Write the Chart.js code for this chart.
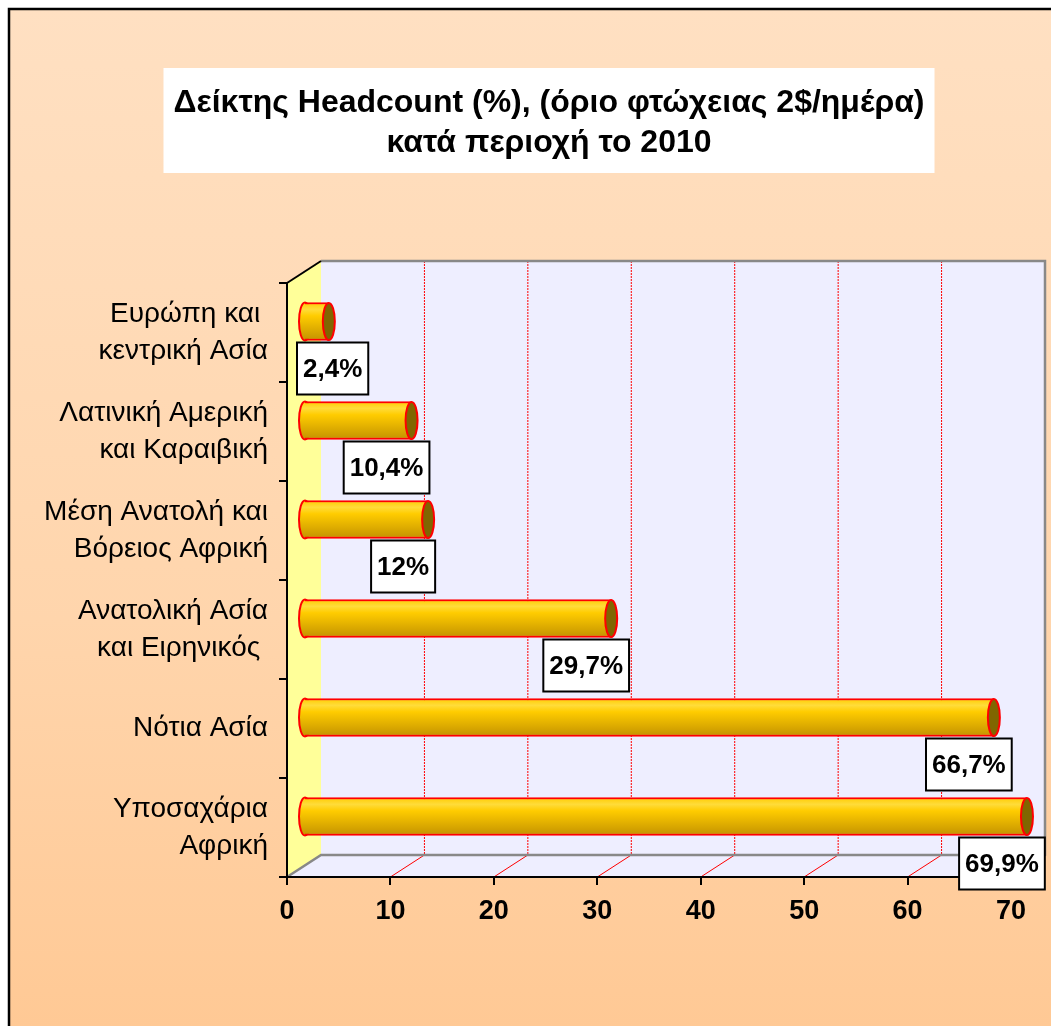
<!DOCTYPE html>
<html>
<head>
<meta charset="utf-8">
<script src="https://cdn.jsdelivr.net/npm/chart.js@4.4.1/dist/chart.umd.min.js"></script>
<style>
  html, body { margin: 0; padding: 0; background: #fff; }
  canvas { display: block; }
</style>
</head>
<body>
<canvas id="chart" width="1051" height="1026"></canvas>
<script>
// τίτλος
var titleLines = ['Δείκτης Headcount (%), (όριο φτώχειας 2$/ημέρα)', 'κατά περιοχή το 2010'];

// περιοχές (πάνω προς κάτω)
var regions = [
  ['Ευρώπη και ', 'κεντρική Ασία'],
  ['Λατινική Αμερική', 'και Καραιβική'],
  ['Μέση Ανατολή και', 'Βόρειος Αφρική'],
  ['Ανατολική Ασία', 'και Ειρηνικός '],
  ['Νότια Ασία'],
  ['Υποσαχάρια', 'Αφρική']
];

// δείκτης headcount %
var headcount = [2.4, 10.4, 12, 29.7, 66.7, 69.9];
var headcountLabels = ['2,4%', '10,4%', '12%', '29,7%', '66,7%', '69,9%'];

// άξονας x
var xMin = 0;
var xMax = 70;
var xStep = 10;

var FONT = "'Liberation Sans', Arial, sans-serif";
var DEPTH_X = 34, DEPTH_Y = -22;

// φόντο, τίτλος, τοίχοι 3D
var backdrop = {
  id: 'backdrop',
  beforeDraw: function(chart) {
    var ctx = chart.ctx;
    var W = chart.width, H = chart.height;
    ctx.save();
    ctx.fillStyle = '#ffffff';
    ctx.fillRect(0, 0, W, H);
    var g = ctx.createLinearGradient(0, 9, 0, H);
    g.addColorStop(0, '#FFE0C2');
    g.addColorStop(0.6, '#FFD5AC');
    g.addColorStop(1, '#FFC995');
    ctx.fillStyle = g;
    ctx.fillRect(9, 9, W, H);
    ctx.strokeStyle = '#000';
    ctx.lineWidth = 2.5;
    ctx.strokeRect(9, 9, W + 10, H + 10);

    // τίτλος σε λευκό πλαίσιο
    ctx.font = 'bold 32px ' + FONT;
    var tw = 0;
    titleLines.forEach(function(t) { tw = Math.max(tw, ctx.measureText(t).width); });
    var tcx = 549, firstY = 103, lh = 40;
    var lastY = firstY + lh * (titleLines.length - 1);
    ctx.fillStyle = '#ffffff';
    ctx.fillRect(tcx - tw / 2 - 10, firstY - 35, tw + 20, lastY - firstY + 65);
    ctx.fillStyle = '#000';
    ctx.textAlign = 'center';
    ctx.textBaseline = 'middle';
    titleLines.forEach(function(t, i) { ctx.fillText(t, tcx, firstY + lh * i); });

    // τοίχοι
    var xs = chart.scales.x;
    var x0 = xs.getPixelForValue(xMin), x1 = xs.getPixelForValue(xMax);
    var top = chart.chartArea.top, bot = chart.chartArea.bottom;
    var dx = DEPTH_X, dy = DEPTH_Y;

    // πίσω τοίχος
    ctx.fillStyle = '#EEEEFF';
    ctx.fillRect(x0 + dx, top + dy, x1 - x0, bot - top);
    // πάτωμα
    ctx.beginPath();
    ctx.moveTo(x0, bot); ctx.lineTo(x0 + dx, bot + dy); ctx.lineTo(x1 + dx, bot + dy); ctx.lineTo(x1, bot);
    ctx.closePath();
    ctx.fill();
    // πλαϊνός τοίχος
    ctx.fillStyle = '#FFFF99';
    ctx.beginPath();
    ctx.moveTo(x0, top); ctx.lineTo(x0 + dx, top + dy); ctx.lineTo(x0 + dx, bot + dy); ctx.lineTo(x0, bot);
    ctx.closePath();
    ctx.fill();

    // γραμμές πλέγματος
    ctx.strokeStyle = '#FF0000';
    ctx.lineWidth = 1;
    ctx.setLineDash([2, 1]);
    for (var v = xMin + xStep; v <= xMax; v += xStep) {
      var px = xs.getPixelForValue(v);
      ctx.beginPath();
      ctx.moveTo(px + dx, top + dy);
      ctx.lineTo(px + dx, bot + dy);
      ctx.stroke();
    }
    ctx.setLineDash([]);
    for (var v2 = xMin + xStep; v2 < xMax; v2 += xStep) {
      var p2 = xs.getPixelForValue(v2);
      ctx.beginPath();
      ctx.moveTo(p2, bot);
      ctx.lineTo(p2 + dx, bot + dy);
      ctx.stroke();
    }

    // γκρι ακμές
    ctx.strokeStyle = '#888888';
    ctx.lineWidth = 2.5;
    ctx.beginPath();
    ctx.moveTo(x0 + dx, top + dy); ctx.lineTo(x1 + dx, top + dy); ctx.lineTo(x1 + dx, bot + dy); ctx.lineTo(x1, bot);
    ctx.stroke();
    ctx.beginPath();
    ctx.moveTo(x0, bot); ctx.lineTo(x0 + dx, bot + dy); ctx.lineTo(x1 + dx, bot + dy);
    ctx.stroke();
    ctx.strokeStyle = '#000';
    ctx.lineWidth = 2;
    ctx.beginPath();
    ctx.moveTo(x0, top); ctx.lineTo(x0 + dx, top + dy);
    ctx.stroke();
    ctx.restore();
  }
};

function barGradient(ctx, yc, h) {
  var g = ctx.createLinearGradient(0, yc - h / 2, 0, yc + h / 2);
  g.addColorStop(0, '#FFCC00');
  g.addColorStop(0.18, '#FFDC3A');
  g.addColorStop(0.35, '#FFCC00');
  g.addColorStop(1, '#C39200');
  return g;
}

// κύλινδροι: μετατόπιση στο μέσο του βάθους και καπάκια
var cylinders = {
  id: 'cylinders',
  beforeDatasetsDraw: function(chart) {
    var ctx = chart.ctx;
    ctx.save();
    ctx.translate(DEPTH_X / 2, DEPTH_Y / 2);
    chart.getDatasetMeta(0).data.forEach(function(el) {
      ctx.beginPath();
      ctx.ellipse(el.base, el.y, 6, el.height / 2, 0, 0, Math.PI * 2);
      ctx.fillStyle = barGradient(ctx, el.y, el.height);
      ctx.fill();
      ctx.strokeStyle = '#FF0000';
      ctx.lineWidth = 2;
      ctx.stroke();
    });
  },
  afterDatasetsDraw: function(chart) {
    var ctx = chart.ctx;
    chart.getDatasetMeta(0).data.forEach(function(el) {
      ctx.beginPath();
      ctx.ellipse(el.x, el.y, 6, el.height / 2 - 0.5, 0, 0, Math.PI * 2);
      ctx.fillStyle = '#806600';
      ctx.fill();
      ctx.strokeStyle = '#FF0000';
      ctx.lineWidth = 2;
      ctx.stroke();
    });
    ctx.restore();

    // ετικέτες τιμών
    var xs = chart.scales.x, ys = chart.scales.y;
    ctx.save();
    ctx.font = 'bold 26px ' + FONT;
    ctx.textAlign = 'center';
    ctx.textBaseline = 'middle';
    headcount.forEach(function(v, i) {
      var txt = headcountLabels[i];
      var w = ctx.measureText(txt).width + 12;
      var h = 52;
      var cx = Math.max(xs.getPixelForValue(v) - 8, chart.chartArea.left + 10 + w / 2);
      var cy = ys.getPixelForValue(i) + 36;
      ctx.fillStyle = '#ffffff';
      ctx.fillRect(cx - w / 2, cy - h / 2, w, h);
      ctx.strokeStyle = '#000';
      ctx.lineWidth = 2;
      ctx.strokeRect(cx - w / 2, cy - h / 2, w, h);
      ctx.fillStyle = '#000';
      ctx.fillText(txt, cx, cy + 1);
    });
    ctx.restore();
  }
};

var ctx = document.getElementById('chart');
var myChart = new Chart(ctx, {
  type: 'bar',
  data: {
    labels: regions,
    datasets: [{
      data: headcount,
      backgroundColor: function(c) {
        var ys = c.chart.scales.y;
        var yc = ys ? ys.getPixelForValue(c.dataIndex) : NaN;
        if (!isFinite(yc)) return '#FFCC00';
        return barGradient(c.chart.ctx, yc, 38);
      },
      borderColor: '#FF0000',
      borderWidth: 2,
      borderSkipped: 'start',
      barThickness: 38,
      clip: false
    }]
  },
  options: {
    indexAxis: 'y',
    responsive: false,
    animation: false,
    devicePixelRatio: 1,
    layout: { padding: { left: 9, right: 40, top: 283, bottom: 0 } },
    plugins: {
      legend: { display: false },
      tooltip: { enabled: false },
      title: { display: false }
    },
    scales: {
      x: {
        type: 'linear',
        min: xMin,
        max: xMax,
        ticks: { stepSize: xStep, color: '#000', font: { family: FONT, size: 27, weight: 'bold' }, padding: 10 },
        grid: { drawOnChartArea: false, tickLength: 8, color: '#000', lineWidth: 2 },
        border: { color: '#000', width: 2 },
        afterFit: function(s) { s.height = 149; }
      },
      y: {
        ticks: { color: '#000', font: { family: FONT, size: 28, lineHeight: 37 / 28 }, padding: 11 },
        grid: { drawOnChartArea: false, tickLength: 8, color: '#000', lineWidth: 2, offset: true },
        border: { color: '#000', width: 2 },
        afterFit: function(s) { s.width = 278; }
      }
    }
  },
  plugins: [backdrop, cylinders]
});
</script>
</body>
</html>
